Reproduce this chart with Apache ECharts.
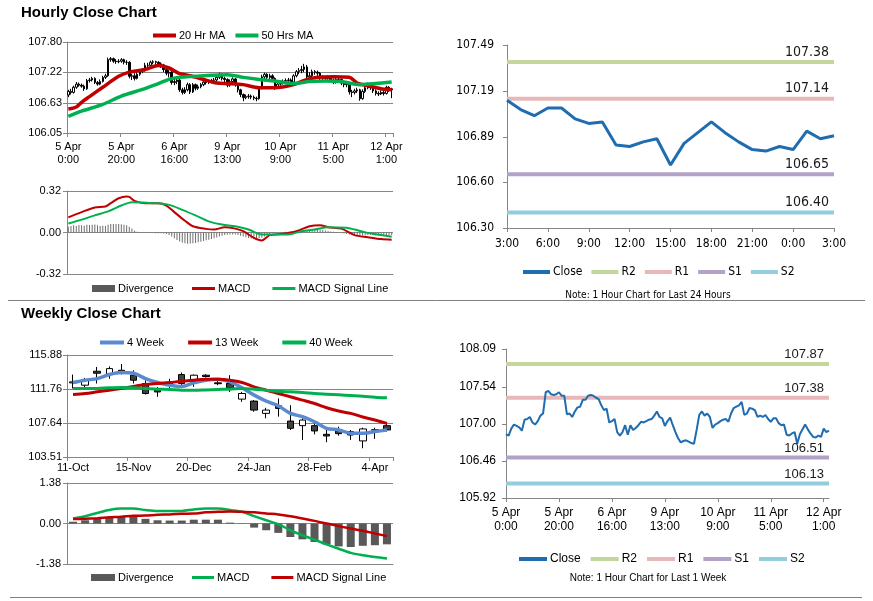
<!DOCTYPE html>
<html>
<head>
<meta charset="utf-8">
<script src="https://cdn.jsdelivr.net/npm/echarts/dist/echarts.min.js"></script>
<style>
  html, body { margin: 0; padding: 0; background: #fff; }
  #main { width: 873px; height: 601px; }
</style>
</head>
<body>
<div id="main"></div>
<script>
// ---------------- hourly data: 5 Apr 0:00 .. 12 Apr 3:00 ----------------
const hourTickLabels = ['5 Apr\n0:00', '5 Apr\n20:00', '6 Apr\n16:00', '9 Apr\n13:00', '10 Apr\n9:00', '11 Apr\n5:00', '12 Apr\n1:00'];
const hourYTicks = [106.05, 106.63, 107.22, 107.80];

// [open, close, low, high]
const hourCandles = [
  [106.78,106.85,106.74,106.88],[106.85,106.83,106.79,106.90],[106.83,106.93,106.81,106.96],[106.93,106.99,106.90,107.03],
  [106.99,106.97,106.94,107.02],[106.97,106.95,106.92,107.00],[106.95,106.90,106.86,106.98],[106.90,107.06,106.88,107.09],
  [107.06,107.07,107.02,107.11],[107.07,107.10,107.04,107.13],[107.10,107.02,106.99,107.12],[107.02,106.99,106.96,107.05],
  [106.99,107.04,106.97,107.08],[107.04,107.12,107.02,107.15],[107.12,107.15,107.09,107.19],[107.15,107.46,107.13,107.50],
  [107.46,107.48,107.42,107.51],[107.48,107.43,107.40,107.50],[107.43,107.42,107.38,107.47],[107.42,107.43,107.39,107.47],
  [107.43,107.46,107.40,107.49],[107.46,107.41,107.37,107.48],[107.41,107.41,107.36,107.45],[107.41,107.14,107.10,107.43],
  [107.14,107.15,107.07,107.19],[107.15,107.10,107.06,107.20],[107.10,107.18,107.08,107.22],[107.18,107.24,107.15,107.27],
  [107.24,107.25,107.20,107.30],[107.25,107.35,107.23,107.40],[107.35,107.35,107.30,107.40],[107.35,107.41,107.32,107.44],
  [107.41,107.42,107.37,107.45],[107.42,107.41,107.36,107.44],[107.41,107.38,107.34,107.43],[107.38,107.36,107.30,107.41],
  [107.36,107.27,107.22,107.38],[107.27,107.20,107.16,107.30],[107.20,107.22,107.12,107.26],[107.22,107.02,106.98,107.24],
  [107.02,107.04,106.97,107.10],[107.04,107.07,106.99,107.11],[107.07,106.88,106.84,107.09],[106.88,106.83,106.79,106.92],
  [106.83,106.88,106.80,106.93],[106.88,106.98,106.85,107.02],[106.98,106.84,106.80,107.01],[106.84,106.98,106.82,107.01],
  [106.98,106.91,106.87,107.00],[106.91,106.94,106.88,106.98],[106.94,106.98,106.91,107.01],[106.98,107.03,106.95,107.06],
  [107.03,107.02,106.98,107.06],[107.02,107.04,106.99,107.07],[107.04,107.06,107.01,107.09],[107.06,107.07,107.02,107.11],
  [107.07,107.12,107.04,107.15],[107.12,107.18,107.09,107.21],[107.18,107.10,107.06,107.20],[107.10,107.08,107.03,107.13],
  [107.08,106.97,106.93,107.10],[106.97,107.04,106.94,107.08],[107.04,107.09,107.01,107.12],[107.09,106.98,106.94,107.11],
  [106.98,106.88,106.83,107.00],[106.88,106.79,106.74,106.90],[106.79,106.73,106.66,106.81],[106.73,106.75,106.70,106.79],
  [106.75,106.76,106.71,106.80],[106.76,106.74,106.70,106.79],[106.74,106.72,106.68,106.77],[106.72,106.71,106.66,106.75],
  [106.71,106.91,106.69,106.95],[106.91,107.13,106.89,107.17],[107.13,107.18,107.08,107.21],[107.18,107.12,107.08,107.20],
  [107.12,107.15,107.09,107.19],[107.15,107.10,107.06,107.18],[107.10,106.94,106.88,107.12],[106.94,106.99,106.91,107.03],
  [106.99,107.01,106.96,107.05],[107.01,107.04,106.98,107.08],[107.04,107.06,107.00,107.10],[107.06,107.07,107.02,107.11],
  [107.07,107.03,106.99,107.10],[107.03,107.15,107.01,107.18],[107.15,107.23,107.12,107.26],[107.23,107.25,107.18,107.30],
  [107.25,107.27,107.20,107.34],[107.27,107.32,107.22,107.38],[107.32,107.13,107.10,107.36],[107.13,107.15,107.09,107.22],
  [107.15,107.23,107.12,107.27],[107.23,107.22,107.17,107.26],[107.22,107.20,107.15,107.25],[107.20,107.10,107.06,107.22],
  [107.10,107.12,107.06,107.16],[107.12,107.10,107.06,107.15],[107.10,107.13,107.07,107.16],[107.13,107.07,107.03,107.15],
  [107.07,107.03,106.99,107.10],[107.03,107.08,107.00,107.11],[107.08,107.08,107.03,107.12],[107.08,107.01,106.97,107.10],
  [107.01,106.98,106.93,107.04],[106.98,106.99,106.93,107.03],[106.99,106.84,106.79,107.01],[106.84,106.83,106.74,106.88],
  [106.83,106.86,106.79,106.90],[106.86,106.88,106.82,106.92],[106.88,106.71,106.67,106.90],[106.71,106.85,106.69,106.89],
  [106.85,106.92,106.82,106.96],[106.92,106.99,106.89,107.02],[106.99,106.92,106.88,107.01],[106.92,106.86,106.82,106.94],
  [106.86,106.81,106.77,106.89],[106.81,106.80,106.76,106.85],[106.80,106.83,106.78,106.87],[106.83,106.81,106.77,106.86],
  [106.81,106.93,106.79,106.96],[106.93,106.88,106.84,106.95],[106.88,106.90,106.72,106.92]
];

// moving averages, [hour index, value]
const hourMA20 = [[0,106.51],[3,106.55],[5,106.64],[8,106.75],[13,106.93],[19,107.14],[23,107.22],[29,107.27],[34,107.35],
  [38,107.30],[42,107.19],[46,107.15],[51,107.08],[56,107.01],[61,107.00],[66,106.98],[72,106.92],[78,106.92],[85,106.98],
  [89,107.06],[94,107.12],[100,107.13],[106,107.12],[109,107.01],[114,106.95],[119,106.89],[122,106.88]];
const hourMA50 = [[0,106.37],[5,106.47],[13,106.60],[20,106.76],[28,106.89],[34,107.00],[38,107.08],[42,107.12],[48,107.14],
  [54,107.16],[60,107.17],[66,107.12],[72,107.08],[78,107.05],[85,107.00],[91,107.04],[97,107.05],[103,107.04],[110,106.98],
  [116,107.00],[122,107.03]];

const hourMacdTicks = [-0.32, 0, 0.32];
const hourMACD = [[0,0.117],[5,0.157],[10,0.193],[14,0.200],[16,0.226],[19,0.264],[22,0.277],[23,0.274],[25,0.244],[29,0.226],
  [34,0.226],[37,0.208],[40,0.157],[44,0.091],[47,0.048],[52,0.028],[55,0.023],[59,0.041],[63,0.030],[66,0.010],[70,-0.041],
  [73,-0.061],[76,-0.020],[81,-0.010],[86,0.010],[91,0.048],[95,0.056],[98,0.041],[103,0.030],[108,-0.020],[113,-0.036],
  [118,-0.051],[122,-0.056]];
const hourSignal = [[0,0.069],[5,0.099],[10,0.132],[15,0.163],[20,0.208],[24,0.234],[28,0.231],[33,0.226],[38,0.213],[43,0.175],
  [48,0.132],[53,0.086],[58,0.061],[63,0.048],[68,0.023],[73,-0.015],[78,-0.015],[83,-0.015],[88,0.010],[93,0.023],[98,0.041],
  [105,0.036],[108,0.023],[113,-0.003],[118,-0.020],[122,-0.033]];
const hourDivergence = [
  0.045,0.05,0.055,0.05,0.058,0.055,0.052,0.06,0.058,0.06,
  0.062,0.055,0.05,0.052,0.05,0.06,0.065,0.066,0.066,0.065,
  0.064,0.06,0.055,0.045,0.03,0.015,0.005,0.002,-0.002,-0.003,
  -0.002,-0.003,-0.004,-0.005,-0.005,-0.006,-0.008,-0.012,-0.02,-0.03,
  -0.045,-0.058,-0.07,-0.078,-0.083,-0.086,-0.085,-0.082,-0.08,-0.076,
  -0.072,-0.066,-0.06,-0.055,-0.05,-0.045,-0.038,-0.03,-0.025,-0.02,
  -0.018,-0.016,-0.015,-0.016,-0.02,-0.025,-0.03,-0.036,-0.042,-0.046,
  -0.05,-0.048,-0.044,-0.04,-0.03,-0.02,-0.012,-0.006,-0.003,0,
  0.002,0.004,0.005,0.006,0.008,0.01,0.012,0.015,0.018,0.02,
  0.022,0.024,0.025,0.025,0.024,0.022,0.02,0.016,0.012,0.008,
  0.005,0.003,0,-0.004,-0.008,-0.012,-0.016,-0.02,-0.022,-0.024,
  -0.025,-0.024,-0.022,-0.02,-0.02,-0.022,-0.024,-0.025,-0.025,-0.024,
  -0.022,-0.022,-0.022
];

// ---------------- pivot levels ----------------
const levelNames = ['R2', 'R1', 'S1', 'S2'];
const dayLevels = [107.38, 107.14, 106.65, 106.40];
const weekLevels = [107.87, 107.38, 106.51, 106.13];
const dayTickLabels = ['3:00', '6:00', '9:00', '12:00', '15:00', '18:00', '21:00', '0:00', '3:00'];
const dayYTicks = [106.30, 106.60, 106.89, 107.19, 107.49];
const weekHourYTicks = [105.92, 106.46, 107.00, 107.54, 108.09];

// ---------------- weekly data ----------------
const weekLabels = ['11-Oct','18-Oct','25-Oct','1-Nov','8-Nov','15-Nov','22-Nov','29-Nov','6-Dec','13-Dec','20-Dec','27-Dec',
  '3-Jan','10-Jan','17-Jan','24-Jan','31-Jan','7-Feb','14-Feb','21-Feb','28-Feb','7-Mar','14-Mar','21-Mar','28-Mar','4-Apr','11-Apr'];
const weekYTicks = [103.51, 107.64, 111.76, 115.88];
const weekCandles = [
  [112.50,112.62,111.82,113.50],[112.22,112.82,111.82,113.10],[113.91,113.67,112.42,114.43],[113.51,114.23,113.00,114.50],
  [114.03,113.83,113.51,114.79],[113.43,112.82,112.42,114.03],[112.42,111.21,111.09,112.82],[111.60,111.40,110.81,112.00],
  [112.30,112.45,111.80,113.00],[113.51,112.42,112.22,113.75],[112.82,113.43,112.02,113.51],[113.43,113.27,113.15,113.55],
  [112.50,112.40,112.22,113.00],[112.42,111.90,111.40,113.43],[110.53,111.21,110.21,111.41],[110.29,109.20,109.00,110.41],
  [108.80,109.20,108.20,109.48],[109.72,109.40,108.40,110.61],[107.87,106.99,106.79,109.80],[107.31,107.99,105.58,108.20],
  [107.31,106.67,106.26,107.59],[106.26,106.06,105.30,107.07],[106.67,106.34,106.10,107.19],[106.59,106.18,105.58,106.79],
  [105.46,106.91,104.57,107.07],[106.75,106.82,105.70,107.07],[107.31,106.79,106.59,107.59]
];
const week4 = [112.54,112.82,113.02,113.51,113.75,113.67,113.02,112.54,112.22,112.06,112.50,112.82,112.94,112.62,111.90,
  111.01,110.29,109.72,108.80,108.40,107.79,106.99,106.79,106.38,106.38,106.59,106.79];
const week13 = [111.09,111.21,111.41,111.61,111.82,112.06,112.30,112.42,112.54,112.70,112.82,112.94,112.94,112.82,112.54,
  112.02,111.61,111.21,110.81,110.41,110.00,109.48,109.08,108.80,108.36,107.99,107.59];
const week40 = [111.82,111.82,111.82,111.90,111.94,111.90,111.82,111.74,111.70,111.61,111.61,111.65,111.70,111.74,111.82,
  111.74,111.61,111.49,111.41,111.33,111.21,111.13,111.05,110.97,110.89,110.77,110.69];

const weekMacdTicks = [-1.38, 0, 1.38];
const weekMACD = [0.17,0.25,0.36,0.46,0.51,0.51,0.46,0.43,0.43,0.43,0.48,0.51,0.51,0.46,0.40,0.25,0.11,-0.02,-0.23,-0.40,
  -0.55,-0.71,-0.86,-1.00,-1.08,-1.14,-1.19];
const weekSignal = [0.15,0.16,0.18,0.21,0.23,0.26,0.27,0.30,0.31,0.33,0.34,0.38,0.40,0.41,0.40,0.38,0.34,0.31,0.25,0.17,
  0.09,0.00,-0.09,-0.17,-0.25,-0.34,-0.43];
const weekDivergence = [0.06,0.11,0.17,0.21,0.23,0.23,0.16,0.11,0.10,0.10,0.13,0.13,0.13,0.03,0.01,-0.14,-0.23,-0.32,-0.46,
  -0.54,-0.63,-0.71,-0.78,-0.80,-0.76,-0.74,-0.71];

// ---------------- styling ----------------
const AXIS_CLR = '#868686';
const FONT = '"Liberation Sans", Arial, sans-serif';
const NARROW = '"Liberation Sans Narrow", "Arial Narrow", "DejaVu Sans Condensed", sans-serif';
const RED = '#c00000', GREEN = '#00b050', BLUE = '#5a8ad0', CLOSE_BLUE = '#1f6cb0', DIV_GRAY = '#595959';
const levelColors = ['#c3d69b', '#e6b9b8', '#b3a2c7', '#93cddd'];

const hourClose = hourCandles.map(r => r[1]);
const dayClose = hourClose.slice(-25);
const hourCats = hourCandles.map((r, i) => String(i));
const dayCats = dayClose.map((v, i) => String(i));

function yAxisOpt(gi, ticks, grid, fontSize, family, margin) {
  return {
    type: 'value', gridIndex: gi, min: ticks[0], max: ticks[ticks.length - 1],
    axisLine: { show: true, lineStyle: { color: AXIS_CLR } },
    axisTick: { show: true, length: 4, customValues: ticks, lineStyle: { color: AXIS_CLR } },
    axisLabel: { customValues: ticks, formatter: v => v.toFixed(2), fontSize, fontFamily: family, color: '#000', margin },
    splitLine: { show: grid, lineStyle: { color: AXIS_CLR } }
  };
}

function catAxis(gi, data, gap, every, fmt, fontSize, family, margin, showLabels) {
  return {
    type: 'category', gridIndex: gi, data, boundaryGap: gap,
    axisLine: { show: true, onZero: false, lineStyle: { color: AXIS_CLR } },
    axisTick: { show: showLabels, interval: every - 1, length: 4, lineStyle: { color: AXIS_CLR } },
    axisLabel: { show: showLabels, interval: every - 1, formatter: fmt, fontSize, fontFamily: family,
      lineHeight: fontSize + 2, color: '#000', margin }
  };
}

function lineSeries(name, axis, data, color, width, smooth) {
  return { name, type: 'line', xAxisIndex: axis, yAxisIndex: axis, data, color,
    symbol: 'none', smooth: smooth ? 0.3 : false, lineStyle: { color, width }, silent: true };
}

function levelSeries(axis, values, lastIdx, fontSize, family) {
  return levelNames.map((n, j) => ({
    name: n, type: 'line', xAxisIndex: axis, yAxisIndex: axis, color: levelColors[j],
    symbol: 'circle', symbolSize: 0, silent: true,
    lineStyle: { color: levelColors[j], width: 4 },
    data: [[0, values[j]], { value: [lastIdx, values[j]],
      label: { show: true, position: 'top', align: 'right', offset: [-5, 0], distance: 3,
        formatter: values[j].toFixed(2), fontSize, fontFamily: family, color: '#1a1a1a' } }]
  }));
}

function legendOpt(left, top, names, w, h, gap, fontSize, family) {
  return { left, top, padding: 0, itemWidth: w, itemHeight: h, itemGap: gap, icon: 'rect',
    selectedMode: false, data: names, textStyle: { fontSize, fontFamily: family, color: '#000', padding: [0, 0, 0, -2] } };
}

const option = {
  animation: false,
  backgroundColor: '#fff',
  grid: [
    { left: 67, top: 42, width: 326, height: 91 },    // hourly candles
    { left: 67, top: 191, width: 326, height: 83 },   // hourly MACD
    { left: 507, top: 45, width: 327, height: 183 },  // last 24 hours
    { left: 67, top: 355, width: 326, height: 102 },  // weekly candles
    { left: 67, top: 483, width: 326, height: 81 },   // weekly MACD
    { left: 506, top: 349, width: 323, height: 149 }  // last week hourly
  ],
  xAxis: [
    catAxis(0, hourCats, true, 20, (v, i) => hourTickLabels[i / 20], 11, FONT, 7, true),
    catAxis(1, hourCats, true, 20, null, 11, FONT, 7, false),
    catAxis(2, dayCats, false, 3, (v, i) => dayTickLabels[i / 3], 12, NARROW, 9, true),
    catAxis(3, weekLabels, true, 5, null, 11, FONT, 4, true),
    catAxis(4, weekLabels, true, 5, null, 11, FONT, 4, false),
    catAxis(5, hourCats, false, 20, (v, i) => hourTickLabels[i / 20], 12, FONT, 8, true)
  ],
  yAxis: [
    yAxisOpt(0, hourYTicks, true, 11, FONT, 5),
    yAxisOpt(1, hourMacdTicks, true, 11, FONT, 6),
    yAxisOpt(2, dayYTicks, false, 12, NARROW, 13),
    yAxisOpt(3, weekYTicks, true, 11, FONT, 5),
    yAxisOpt(4, weekMacdTicks, true, 11, FONT, 6),
    yAxisOpt(5, weekHourYTicks, false, 12, FONT, 10)
  ],
  legend: [
    legendOpt(153, 30, ['20 Hr MA', '50 Hrs MA'], 23, 4, 10, 11, FONT),
    legendOpt(92, 283, [{ name: 'Divergence', itemStyle: { color: DIV_GRAY } }], 23, 7, 10, 11, FONT),
    legendOpt(192, 283, [{ name: 'MACD', itemStyle: { color: RED } }, { name: 'MACD Signal Line', itemStyle: { color: GREEN } }], 23, 3, 22, 11, FONT),
    legendOpt(523, 266, ['Close', 'R2', 'R1', 'S1', 'S2'], 27, 4, 9, 12, NARROW),
    legendOpt(100, 337, ['4 Week', '13 Week', '40 Week'], 24, 4, 24, 11, FONT),
    legendOpt(91, 572, [{ name: 'Divergence', itemStyle: { color: DIV_GRAY } }], 24, 7, 10, 11, FONT),
    legendOpt(192, 572, [{ name: 'MACD', itemStyle: { color: GREEN } }, { name: 'MACD Signal Line', itemStyle: { color: RED } }], 22, 3, 22, 11, FONT),
    legendOpt(519, 553, ['Close', 'R2', 'R1', 'S1', 'S2'], 28, 4, 10, 12, FONT)
  ],
  graphic: [
    { type: 'text', x: 21, y: 13, style: { text: 'Hourly Close Chart', font: 'bold 15px ' + FONT, fill: '#000', verticalAlign: 'middle', textVerticalAlign: 'middle' } },
    { type: 'text', x: 21, y: 314, style: { text: 'Weekly Close Chart', font: 'bold 15px ' + FONT, fill: '#000', verticalAlign: 'middle', textVerticalAlign: 'middle' } },
    { type: 'text', x: 648, y: 295, style: { text: 'Note: 1 Hour Chart for Last 24 Hours', font: '10px ' + NARROW, fill: '#000',
      align: 'center', textAlign: 'center', verticalAlign: 'middle', textVerticalAlign: 'middle' } },
    { type: 'text', x: 648, y: 578, style: { text: 'Note: 1 Hour Chart for Last 1 Week', font: '10px ' + FONT, fill: '#000',
      align: 'center', textAlign: 'center', verticalAlign: 'middle', textVerticalAlign: 'middle' } },
    { type: 'line', shape: { x1: 8, y1: 300.5, x2: 865, y2: 300.5 }, style: { stroke: '#808080', lineWidth: 1 } },
    { type: 'line', shape: { x1: 10, y1: 597.5, x2: 862, y2: 597.5 }, style: { stroke: '#808080', lineWidth: 1 } }
  ],
  series: [
    { name: 'Hourly', type: 'candlestick', xAxisIndex: 0, yAxisIndex: 0, data: hourCandles, barWidth: 2, silent: true,
      itemStyle: { color: '#ffffff', color0: '#000000', borderColor: '#000000', borderColor0: '#000000', borderWidth: 1 } },
    lineSeries('20 Hr MA', 0, hourMA20, RED, 3.5, true),
    lineSeries('50 Hrs MA', 0, hourMA50, GREEN, 3.5, true),

    { name: 'Divergence', type: 'bar', xAxisIndex: 1, yAxisIndex: 1, data: hourDivergence, barWidth: 1, color: '#6e6e6e', silent: true },
    lineSeries('MACD', 1, hourMACD, RED, 2, true),
    lineSeries('MACD Signal Line', 1, hourSignal, GREEN, 2, true),

    ...levelSeries(2, dayLevels, 24, 14, NARROW),
    lineSeries('Close', 2, dayClose, CLOSE_BLUE, 3, false),

    { name: 'Weekly', type: 'candlestick', xAxisIndex: 3, yAxisIndex: 3, data: weekCandles, barWidth: 7, silent: true,
      itemStyle: { color: '#ffffff', color0: '#404040', borderColor: '#000000', borderColor0: '#000000', borderWidth: 1 } },
    lineSeries('4 Week', 3, week4, BLUE, 3.5, true),
    lineSeries('13 Week', 3, week13, RED, 3, true),
    lineSeries('40 Week', 3, week40, GREEN, 3, true),

    { name: 'Divergence', type: 'bar', xAxisIndex: 4, yAxisIndex: 4, data: weekDivergence, barWidth: 8, color: DIV_GRAY, silent: true },
    lineSeries('MACD', 4, weekMACD, GREEN, 2.5, true),
    lineSeries('MACD Signal Line', 4, weekSignal, RED, 2.5, true),

    ...levelSeries(5, weekLevels, 122, 13, FONT),
    lineSeries('Close', 5, hourClose, CLOSE_BLUE, 2, false)
  ]
};

const chart = echarts.init(document.getElementById('main'), null, { renderer: 'canvas' });
chart.setOption(option);
</script>
</body>
</html>
